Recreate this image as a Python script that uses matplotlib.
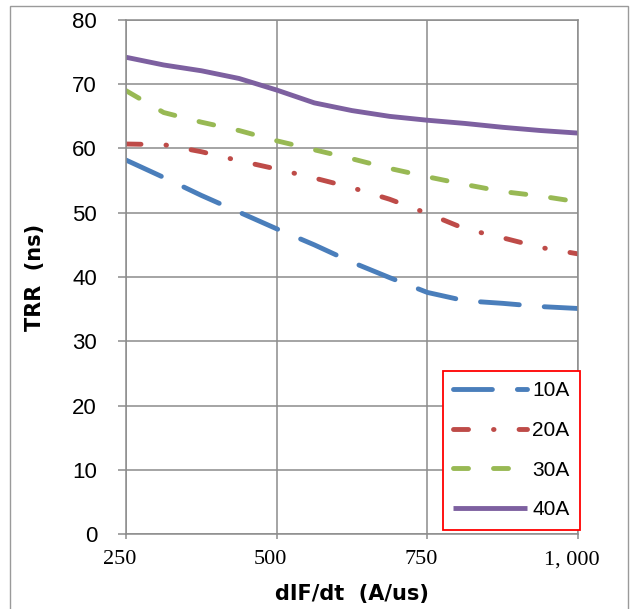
import matplotlib
matplotlib.use("Agg")
import matplotlib.pyplot as plt
import matplotlib.transforms as mtransforms
from matplotlib.patches import Rectangle
from matplotlib.ticker import FuncFormatter

# data
dif_dt = [250, 312.5, 375, 437.5, 500, 562.5, 625, 687.5, 750, 812.5, 875, 937.5, 1000]
trr_10a = [58.2, 55.5, 52.7, 50.1, 47.5, 45.0, 42.3, 39.9, 37.6, 36.3, 35.9, 35.4, 35.1]
trr_20a = [60.7, 60.6, 59.5, 58.1, 56.8, 55.4, 53.9, 52.1, 49.9, 47.5, 46.1, 44.6, 43.6]
trr_30a = [69.0, 65.6, 64.1, 62.8, 61.2, 59.8, 58.4, 56.9, 55.6, 54.4, 53.3, 52.6, 51.7]
trr_40a = [74.2, 73.0, 72.1, 70.9, 69.1, 67.1, 65.9, 65.0, 64.4, 63.9, 63.3, 62.8, 62.4]
labels = ["10A", "20A", "30A", "40A"]
x_ticks = [250, 500, 750, 1000]
y_ticks = [0, 10, 20, 30, 40, 50, 60, 70, 80]

plt.rcParams["lines.scale_dashes"] = False
plt.rcParams["font.family"] = ["Liberation Sans", "DejaVu Sans"]

fig = plt.figure(figsize=(6.31, 6.09), dpi=100)
ax = fig.add_axes([126 / 631, 75 / 609, 452 / 631, 514 / 609])

grid_col = "#8c8c8c"
lw = 3.5

ax.plot(dif_dt, trr_10a, color="#4a7ebb", lw=lw, dashes=(28, 18),
        dash_capstyle="round", label=labels[0])
ax.plot(dif_dt, trr_20a, color="#be4b48", lw=lw, dashes=(10.8, 18, 0.4, 18),
        dash_capstyle="round", label=labels[1])
ax.plot(dif_dt, trr_30a, color="#98b954", lw=lw, dashes=(10.8, 18),
        dash_capstyle="round", label=labels[2])
ax.plot(dif_dt, trr_40a, color="#7d60a0", lw=lw, solid_capstyle="butt",
        label=labels[3])

ax.set_xlim(250, 1000)
ax.set_ylim(0, 80)
ax.set_xticks(x_ticks)
ax.set_yticks(y_ticks)
ax.xaxis.set_major_formatter(FuncFormatter(
    lambda v, p: f"{int(v):,}".replace(",", ", ")))

ax.grid(True, color=grid_col, lw=1.1)
ax.set_axisbelow(True)
for s in ax.spines.values():
    s.set_color(grid_col)
    s.set_linewidth(1.1)

ax.tick_params(axis="y", direction="out", length=5.8, width=1.1, color=grid_col,
               pad=15, labelsize=16)
ax.tick_params(axis="x", direction="out", length=3.8, width=1.1, color=grid_col,
               pad=8, labelsize=16)
# excel puts the x labels a bit left of the ticks
shift = mtransforms.ScaledTranslation(-6 / 100, 0, fig.dpi_scale_trans)
for t in ax.get_xticklabels():
    t.set_family("Liberation Serif")
    t.set_transform(t.get_transform() + shift)

ax.set_ylabel("TRR  (ns)", fontsize=15, fontweight="bold", family="DejaVu Sans")
ax.yaxis.set_label_coords(-0.179, 0.5)
ax.set_xlabel("dIF/dt  (A/us)", fontsize=15, fontweight="bold",
              family="DejaVu Sans")
ax.xaxis.set_label_coords(0.5, -0.097)

leg = ax.legend(loc="lower right", bbox_to_anchor=(1.004, 0.008),
                fontsize=15, handlelength=3.55, handletextpad=0.24,
                labelspacing=1.0, borderpad=0.5, borderaxespad=0,
                fancybox=False, framealpha=1)
leg.get_frame().set_edgecolor("#ff0000")
leg.get_frame().set_linewidth(1.3)

# outer chart border
fig.patches.append(Rectangle((10 / 631, -0.05), 618 / 631, 1.05 - 6 / 609,
                             transform=fig.transFigure, fill=False,
                             edgecolor="#9a9a9a", lw=1.0))

fig.savefig("out.png", dpi=100)
